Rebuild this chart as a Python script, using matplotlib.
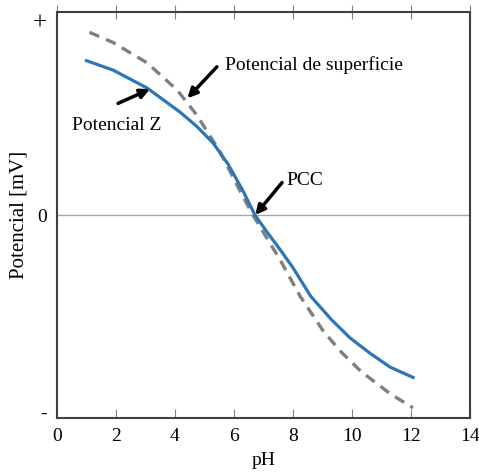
import matplotlib
matplotlib.use("Agg")
import matplotlib.pyplot as plt

# Data
ph_z = [1.0, 1.9, 3.05, 4.17, 4.75, 5.29, 5.8, 6.3, 6.71, 7.1, 7.56, 8.0, 8.3, 8.6, 9.3, 9.93, 10.6, 11.3, 12.07]
pot_z = [0.76, 0.714, 0.626, 0.507, 0.435, 0.355, 0.25, 0.12, 0.0, -0.08, -0.17, -0.26, -0.33, -0.40, -0.515, -0.605, -0.68, -0.75, -0.80]

ph_s = [1.1, 1.9, 3.05, 4.07, 4.75, 5.53, 6.2, 6.64, 7.1, 7.56, 8.24, 9.02, 9.6, 10.3, 11.29, 12.07]
pot_s = [0.90, 0.85, 0.75, 0.616, 0.49, 0.31, 0.12, 0.0, -0.11, -0.22, -0.40, -0.57, -0.67, -0.77, -0.88, -0.95]

x_ticks = [0, 2, 4, 6, 8, 10, 12, 14]
y_ticks = [0.955, 0, -0.97]
y_ticklabels = ["+", "0", "-"]

plt.rcParams['font.family'] = ['Liberation Serif', 'DejaVu Serif']
FS = 14

fig = plt.figure(figsize=(4.79, 4.74), dpi=100)
ax = fig.add_axes([57/479, 56/474, 413/479, 406/474])

ax.axhline(0, color='#a6a6a6', lw=1.0, zorder=1)
ax.plot(ph_s, pot_s, color='#7f7f7f', lw=2.4, ls=(0, (3.2, 2.2)), zorder=2)
ax.plot(ph_z, pot_z, color='#2e75b6', lw=2.3, zorder=3)

ax.set_xlim(0, 14)
ax.set_ylim(-1, 1)
ax.set_xticks(x_ticks)
ax.set_yticks(y_ticks)
ax.set_yticklabels(y_ticklabels)

ax.xaxis.set_ticks_position('both')
ax.tick_params(axis='x', direction='in', length=6.5, width=0.8, color='#808080',
               labelsize=FS, pad=7)
ax.tick_params(axis='y', length=0, labelsize=FS, pad=7)
ax.get_yticklabels()[0].set_fontsize(18)
for t in ax.xaxis.get_major_ticks():
    t.tick2line.set_marker('|')
    t.tick2line.set_markersize(10)
    t.tick2line.set_markeredgewidth(0.8)

for s in ax.spines.values():
    s.set_color('#404040')
    s.set_linewidth(1.5)

ax.set_xlabel('pH', fontsize=FS, labelpad=5)
ax.set_ylabel('Potencial [mV]', fontsize=15, labelpad=3)

arrow = dict(arrowstyle='-|>', color='black', lw=2.5, mutation_scale=14,
             shrinkA=0, shrinkB=0)
ax.text(0.51, 0.419, 'Potencial Z', fontsize=FS, ha='left', va='baseline')
ax.annotate('', xy=(3.15, 0.62), xytext=(2.07, 0.55), arrowprops=arrow)
ax.text(5.69, 0.714, 'Potencial de superficie', fontsize=FS, ha='left', va='baseline')
ax.annotate('', xy=(4.42, 0.575), xytext=(5.42, 0.73), arrowprops=arrow)
ax.text(7.76, 0.148, 'PCC', fontsize=FS, ha='left', va='baseline')
ax.annotate('', xy=(6.72, 0.0), xytext=(7.63, 0.16), arrowprops=arrow)

fig.savefig('out.png', dpi=100)
